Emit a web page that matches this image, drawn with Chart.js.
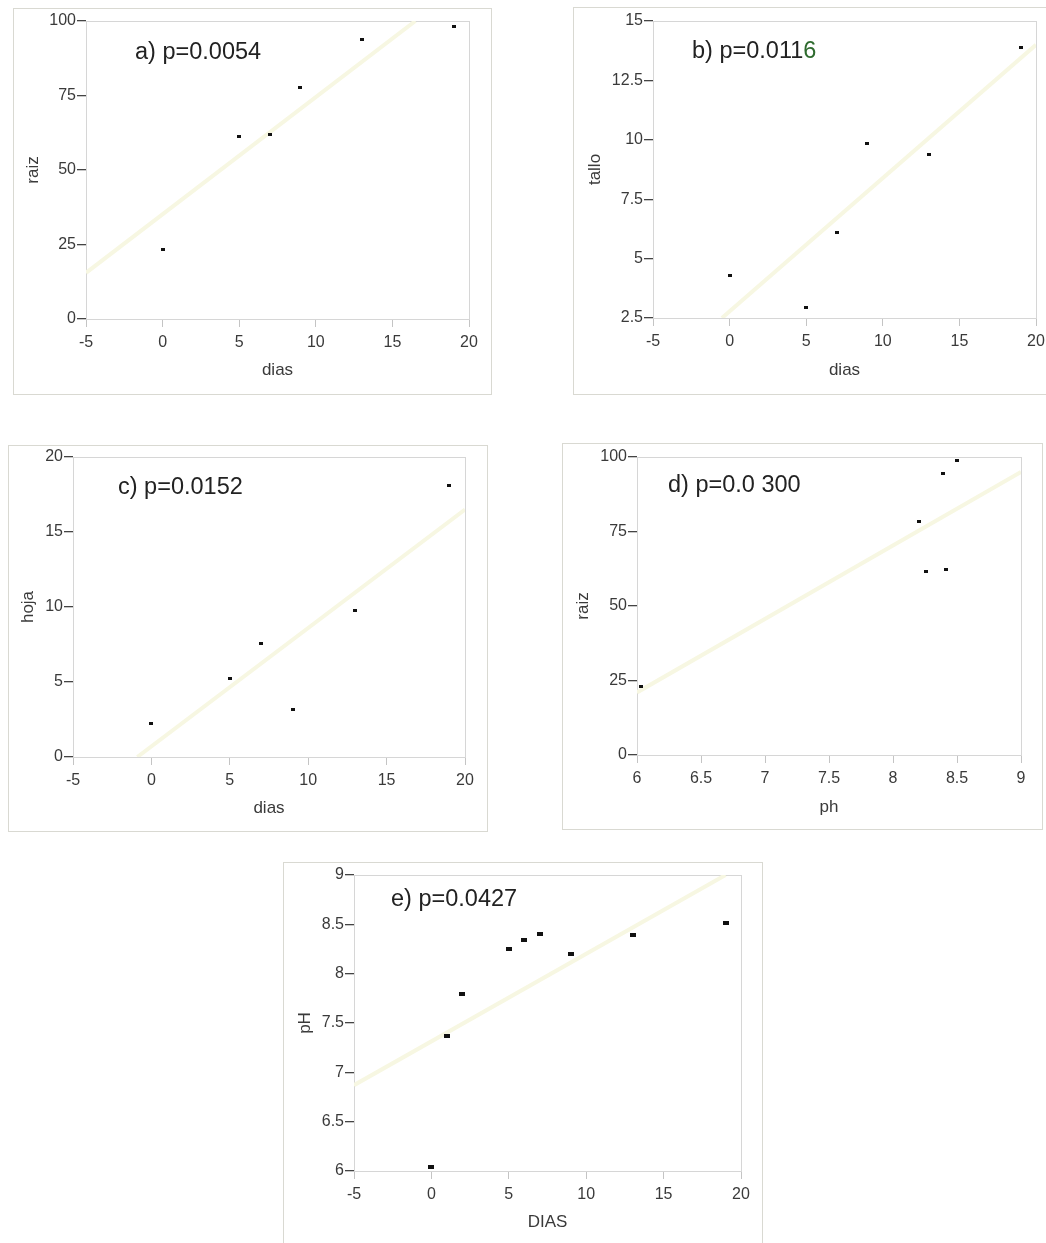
<!DOCTYPE html>
<html><head><meta charset="utf-8">
<script src="https://cdn.jsdelivr.net/npm/chart.js@4/dist/chart.umd.min.js"></script>
<style>
html,body{margin:0;padding:0;background:#fff;overflow:hidden;width:1046px;height:1243px;}
canvas{position:absolute;}
</style></head><body>
<canvas id="ca"></canvas><canvas id="cb"></canvas><canvas id="cc"></canvas><canvas id="cd"></canvas><canvas id="ce"></canvas>
<script>
/* data */
const dias=[0,5,7,9,13,19];
const raiz=[23.2,61.4,61.9,77.8,93.8,98.3];
const tallo=[4.28,2.96,6.11,9.85,9.39,13.88];
const hoja=[2.23,5.23,7.57,3.14,9.8,18.13];
const phD=[6.03,8.2,8.256,8.39,8.415,8.5];
const raizD=[23,78.4,61.6,94.4,62.15,98.9];
const diasE=[0,1,2,5,6,7,9,13,19];
const phE=[6.04,7.37,7.79,8.25,8.34,8.4,8.2,8.39,8.51];

// faint fitted lines, end points as seen in the picture
const fitAX=[-5,16.5], fitAY=[15.5,100];
const fitBX=[-0.5,20], fitBY=[2.5,14];
const fitCX=[-0.9,20], fitCY=[0,16.5];
const fitDX=[6,9], fitDY=[21,95];
const fitEX=[-5,19], fitEY=[6.87,9];

const ticksDias=[-5,0,5,10,15,20];
const ticksRaiz=[0,25,50,75,100];
const ticksTallo=[2.5,5,7.5,10,12.5,15];
const ticksHoja=[0,5,10,15,20];
const ticksPh=[6,6.5,7,7.5,8,8.5,9];

const FONT="'Liberation Sans', Arial, sans-serif";
const TXT='#3a3a3a';

function dot(w,h){const c=document.createElement('canvas');c.width=w;c.height=h;const g=c.getContext('2d');g.fillStyle='#111';g.fillRect(0,0,w,h);return c;}
const pts=(xs,ys)=>xs.map((x,i)=>({x:x,y:ys[i]}));

const boxPlugin={id:'box',
  beforeDatasetsDraw(chart){const a=chart.chartArea,g=chart.ctx;g.save();g.strokeStyle='#d6d6d6';g.lineWidth=1;
    g.strokeRect(Math.round(a.left)+0.5,Math.round(a.top)+0.5,Math.round(a.right-a.left),Math.round(a.bottom-a.top));
    g.strokeStyle='#d9d9d2';g.strokeRect(0.5,0.5,chart.width-1,chart.height-1);g.restore();},
  afterDraw(chart){const o=chart.options.plugins.box,a=chart.chartArea,g=chart.ctx;g.save();
    g.font='23.5px '+FONT;g.textBaseline='middle';g.fillStyle='#222';
    let x=a.left+o.dx,y=a.top+o.dy;
    g.fillText(o.text,x,y);
    if(o.tail){g.fillStyle='#2f6b2f';g.fillText(o.tail,x+g.measureText(o.text).width,y);}
    g.restore();}
};

function makeChart(id,geo,xs,ys,fx,fy,xTicks,yTicks,xTitle,yTitle,dw,dh){
  const [fl,ft,fr,fb]=geo.frame,[pl,pt,pr,pb]=geo.plot;
  const cv=document.getElementById(id);
  cv.width=fr-fl;cv.height=fb-ft;cv.style.left=fl+'px';cv.style.top=ft+'px';
  const padL=geo.yt-fl-10.2, padB=fb-(geo.xt+10.2);
  const tickFont={family:FONT,size:16};
  new Chart(cv,{type:'scatter',
    data:{datasets:[
      {data:pts(xs,ys),pointStyle:dot(dw,dh),pointRadius:3,order:1},
      {data:pts(fx,fy),showLine:true,pointRadius:0,borderColor:'#f7f7e2',borderWidth:4,order:2}
    ]},
    options:{responsive:false,animation:false,events:[],
      layout:{padding:{left:padL,top:pt-ft,right:fr-pr,bottom:padB}},
      plugins:{legend:{display:false},tooltip:{enabled:false},box:geo.note},
      scales:{
        x:{type:'linear',min:xTicks[0],max:xTicks[xTicks.length-1],
          afterBuildTicks:s=>{s.ticks=xTicks.map(v=>({value:v}));},
          afterFit:s=>{s.height=(fb-ft-padB)-(pb-ft);},
          ticks:{autoSkip:false,maxRotation:0,color:TXT,font:tickFont,padding:6,callback:v=>String(v)},
          grid:{drawOnChartArea:false,drawTicks:true,tickLength:8,tickColor:'#c4c4c4'},
          border:{color:'#d6d6d6'},
          title:{display:true,text:xTitle,color:TXT,font:{family:FONT,size:17},padding:0}},
        y:{type:'linear',min:yTicks[0],max:yTicks[yTicks.length-1],
          afterBuildTicks:s=>{s.ticks=yTicks.map(v=>({value:v}));},
          afterFit:s=>{s.width=pl-fl-padL;},
          ticks:{autoSkip:false,color:TXT,font:tickFont,padding:1,callback:v=>String(v)},
          grid:{drawOnChartArea:false,drawTicks:true,tickLength:9,tickColor:'#444',lineWidth:1.3},
          border:{color:'#d6d6d6'},
          title:{display:true,text:yTitle,color:TXT,font:{family:FONT,size:17},padding:0}}
      }},
    plugins:[boxPlugin]});
}

makeChart('ca',{frame:[13,8,492,395],plot:[86,21,469,319],xt:370,yt:33,note:{text:'a) p=0.0054',dx:49,dy:32}},
  dias,raiz,fitAX,fitAY,ticksDias,ticksRaiz,'dias','raiz',4,3);
makeChart('cb',{frame:[573,7,1052,395],plot:[653,21,1036,318],xt:370,yt:595,note:{text:'b) p=0.011',tail:'6',dx:39,dy:31}},
  dias,tallo,fitBX,fitBY,ticksDias,ticksTallo,'dias','tallo',4,3);
makeChart('cc',{frame:[8,445,488,832],plot:[73,457,465,757],xt:808,yt:28,note:{text:'c) p=0.0152',dx:45,dy:31}},
  dias,hoja,fitCX,fitCY,ticksDias,ticksHoja,'dias','hoja',4,3);
makeChart('cd',{frame:[562,443,1043,830],plot:[637,457,1021,755],xt:807,yt:583,note:{text:'d) p=0.0 300',dx:31,dy:29}},
  phD,raizD,fitDX,fitDY,ticksPh,ticksRaiz,'ph','raiz',4,3);
makeChart('ce',{frame:[283,862,763,1250],plot:[354,875,741,1171],xt:1222,yt:305,note:{text:'e) p=0.0427',dx:37,dy:25}},
  diasE,phE,fitEX,fitEY,ticksDias,ticksPh,'DIAS','pH',6,4);
</script>
</body></html>
